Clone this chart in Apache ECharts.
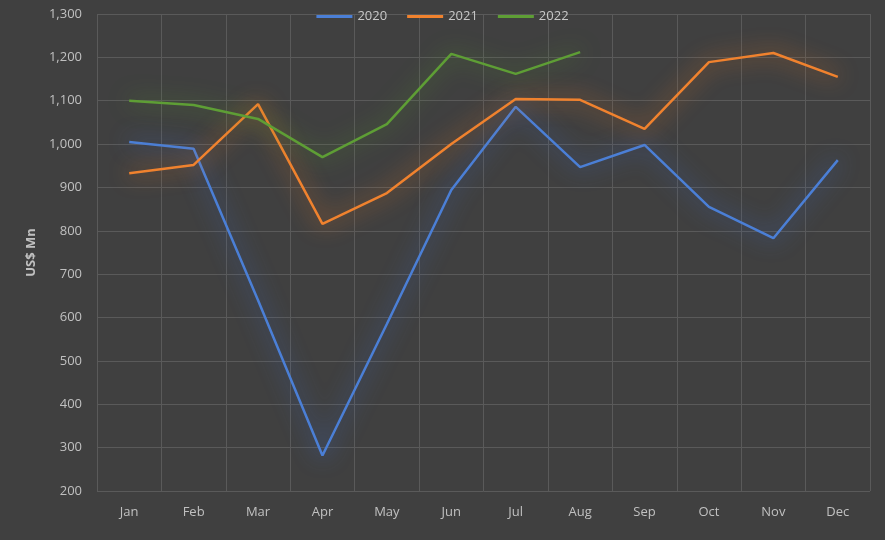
<!DOCTYPE html>
<html><head><meta charset="utf-8">
<style>html,body{margin:0;padding:0;background:#404040;}#c{width:885px;height:540px;}</style>
<script src="https://cdn.jsdelivr.net/npm/echarts@6/dist/echarts.min.js"></script>
</head><body><div id="c"></div>
<script>
var months = ['Jan','Feb','Mar','Apr','May','Jun','Jul','Aug','Sep','Oct','Nov','Dec'];
var s2020 = [1005, 989, 640, 282, 585, 894, 1086, 947, 998, 855, 783, 963];
var s2021 = [933, 952, 1092, 816, 887, 1000, 1104, 1102, 1035, 1189, 1210, 1155];
var s2022 = [1100, 1090, 1058, 970, 1046, 1208, 1162, 1212];
var names = ['2020','2021','2022'];
var colors = ['#4b7fd6','#f0822e','#5e9e35'];
var glow = ['#3f6fd0','#f07a20','#55952c'];
var chart = echarts.init(document.getElementById('c'));
function ser(i, d){
  return {name:names[i], type:'line', data:d, symbol:'none', smooth:false,
    lineStyle:{width:2.5,color:colors[i],shadowBlur:22,shadowColor:glow[i]},
    itemStyle:{color:colors[i]}};
}
chart.setOption({
  backgroundColor:'#404040',
  textStyle:{fontFamily:'Open Sans'},
  legend:{top:5,left:'center',itemWidth:36,itemHeight:3,itemGap:20,icon:'rect',
    textStyle:{color:'#c8c8c8',fontSize:13,fontFamily:'Open Sans'}},
  grid:{left:97,right:15,top:14,bottom:49},
  xAxis:{type:'category',data:months,boundaryGap:true,
    axisLine:{show:false},axisTick:{show:false},
    splitLine:{show:true,interval:0,lineStyle:{color:'#5a5a5a',width:1}},
    axisLabel:{color:'#c0c0c0',fontSize:13,margin:15,interval:0}},
  yAxis:{type:'value',min:200,max:1300,interval:100,
    name:'US$ Mn',nameLocation:'middle',nameGap:58,nameRotate:90,
    nameTextStyle:{color:'#c0c0c0',fontSize:13,fontWeight:'bold'},
    axisLine:{show:false},axisTick:{show:false},
    splitLine:{lineStyle:{color:'#5a5a5a',width:1}},
    axisLabel:{color:'#c0c0c0',fontSize:13,margin:15,
      formatter:function(v){return v.toLocaleString('en-US');}}},
  series:[ser(0,s2020),ser(1,s2021),ser(2,s2022)]
});
</script></body></html>
